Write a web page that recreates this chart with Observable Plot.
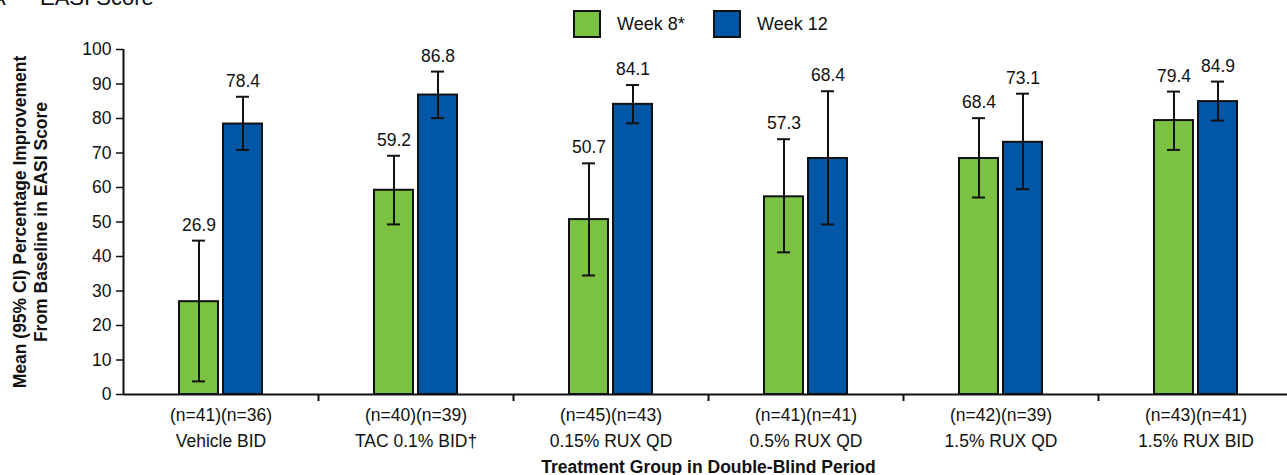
<!DOCTYPE html>
<html>
<head>
<meta charset="utf-8">
<script src="https://cdn.jsdelivr.net/npm/d3@7"></script>
<script src="https://cdn.jsdelivr.net/npm/@observablehq/plot@0.6"></script>
<style>
  html, body { margin: 0; padding: 0; background: #fff; overflow: hidden; }
  body { font-family: "Liberation Sans", Arial, sans-serif; color: #111; }
  #wrap { position: relative; width: 1287px; height: 475px; }
  #title { position: absolute; top: -13px; left: 0; font-size: 22px; line-height: 22px; white-space: nowrap; z-index: 2; }
  #title .a { position: absolute; left: -9px; }
  #title .t { position: absolute; left: 40px; }
  #legend { position: relative; height: 45px; }
  .sw { position: absolute; top: 10px; width: 28px; height: 28px; box-sizing: border-box; border: 2px solid #111; }
  .lt { position: absolute; top: 14px; font-size: 18px; line-height: 20px; white-space: nowrap; }
  #chart svg { display: block; }
</style>
</head>
<body>
<div id="wrap">
  <div id="title"><span class="a">A</span><span class="t">EASI Score</span></div>
  <div id="legend"></div>
  <div id="chart"></div>
</div>
<script>
// ---- data ----
const groups = ["Vehicle BID", "TAC 0.1% BID\u2020", "0.15% RUX QD", "0.5% RUX QD", "1.5% RUX QD", "1.5% RUX BID"];
const weeks = ["Week 8*", "Week 12"];
const colors = ["#7CC242", "#0157A6"];
const week8 = [26.9, 59.2, 50.7, 57.3, 68.4, 79.4];
const week8Lo = [3.8, 49.3, 34.5, 41.2, 57.1, 70.9];
const week8Hi = [44.6, 69.2, 67.0, 74.0, 80.1, 87.8];
const week12 = [78.4, 86.8, 84.1, 68.4, 73.1, 84.9];
const week12Lo = [70.9, 80.1, 78.6, 49.3, 59.5, 79.4];
const week12Hi = [86.3, 93.6, 89.7, 87.9, 87.2, 90.7];
const n8 = [41, 40, 45, 41, 42, 43];
const n12 = [36, 39, 43, 41, 39, 41];
const yTicks = [0, 10, 20, 30, 40, 50, 60, 70, 80, 90, 100];
const yTitle = "Mean (95% CI) Percentage Improvement\nFrom Baseline in EASI Score";
const xTitle = "Treatment Group in Double-Blind Period";

// ---- layout ----
const W = 1287, H = 430, ML = 123, MR = -6, MT = 4, MB = 81;
const bw = (W - ML - MR) / groups.length;
const barW = 39, gap = 5, capW = 13;
const inset = (bw - barW) / 2;
const capInset = (bw - capW) / 2;
const off = (barW + gap) / 2;

const rows8 = groups.map((g, i) => ({group: g, week: weeks[0], value: week8[i], lo: week8Lo[i], hi: week8Hi[i]}));
const rows12 = groups.map((g, i) => ({group: g, week: weeks[1], value: week12[i], lo: week12Lo[i], hi: week12Hi[i]}));
const nLabel = new Map(groups.map((g, i) => [g, `(n=${n8[i]})(n=${n12[i]})`]));

function seriesMarks(rows, dx) {
  return [
    Plot.barY(rows, {x: "group", y: "value", fill: "week", stroke: "#111", strokeWidth: 2,
      insetLeft: inset, insetRight: inset, dx}),
    Plot.ruleX(rows, {x: "group", y1: "lo", y2: "hi", stroke: "#111", strokeWidth: 2, dx}),
    Plot.tickY(rows, {x: "group", y: "lo", stroke: "#111", strokeWidth: 2, insetLeft: capInset, insetRight: capInset, dx}),
    Plot.tickY(rows, {x: "group", y: "hi", stroke: "#111", strokeWidth: 2, insetLeft: capInset, insetRight: capInset, dx}),
    Plot.text(rows, {x: "group", y: "hi", text: d => d.value.toFixed(1), dx, dy: -10, lineAnchor: "bottom",
      fontSize: 17.5, fill: "#111"})
  ];
}

const chart = Plot.plot({
  width: W, height: H,
  marginLeft: ML, marginRight: MR, marginTop: MT, marginBottom: MB,
  style: {fontFamily: "'Liberation Sans', Arial, sans-serif", fontSize: "17px", color: "#111", background: "transparent", overflow: "visible"},
  x: {domain: groups, paddingInner: 0, paddingOuter: 0, label: null},
  y: {domain: [0, 100], label: null},
  color: {domain: weeks, range: colors},
  marks: [
    ...seriesMarks(rows8, -off),
    ...seriesMarks(rows12, off),
    Plot.ruleY([0], {stroke: "#111", strokeWidth: 2}),
    Plot.ruleX([groups[0]], {y1: 0, y2: 100, dx: -bw / 2, stroke: "#111", strokeWidth: 2}),
    Plot.axisY({ticks: yTicks, tickSize: 7, tickPadding: 5, fontSize: 17.5, label: null, strokeWidth: 1.5}),
    Plot.axisX(groups.slice(1), {tickSize: 7, tickFormat: () => "", label: null, dx: -bw / 2, strokeWidth: 2}),
    Plot.axisX({tickSize: 0, tickPadding: 14, fontSize: 17.5, label: null, tickFormat: d => nLabel.get(d)}),
    Plot.axisX({tickSize: 0, tickPadding: 40, fontSize: 17.5, label: null, tickFormat: d => d}),
    Plot.text([yTitle], {frameAnchor: "left", textAnchor: "middle", rotate: -90, dx: -93.6, fontWeight: "bold", fontSize: 17.5,
      lineHeight: 1.2, fill: "#111"}),
    Plot.text([xTitle], {frameAnchor: "bottom", dy: 78.5, lineAnchor: "bottom", fontWeight: "bold", fontSize: 17.5, fill: "#111"})
  ]
});
document.getElementById("chart").appendChild(chart);

// ---- legend ----
const legend = document.getElementById("legend");
const swLeft = [573, 713], txLeft = [617, 757];
weeks.forEach((w, i) => {
  const s = document.createElement("div");
  s.className = "sw"; s.style.left = swLeft[i] + "px"; s.style.background = colors[i];
  legend.appendChild(s);
  const t = document.createElement("div");
  t.className = "lt"; t.style.left = txLeft[i] + "px"; t.textContent = w;
  legend.appendChild(t);
});
</script>
</body>
</html>
